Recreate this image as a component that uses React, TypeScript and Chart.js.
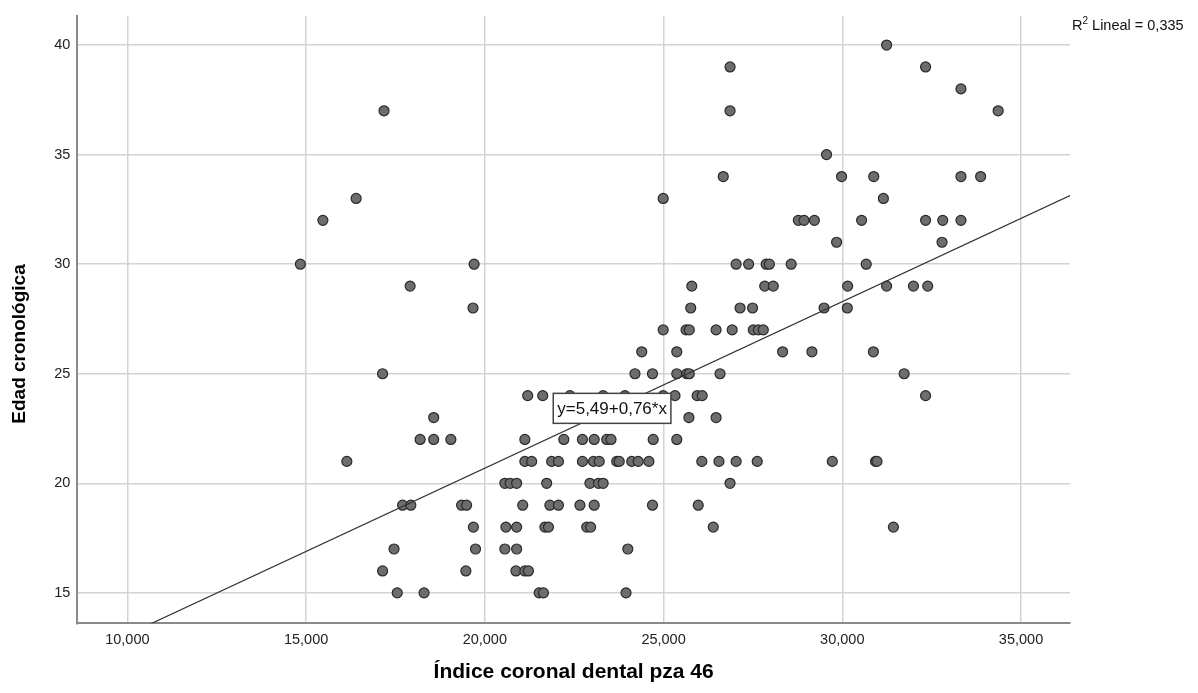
import React, { useEffect, useRef } from 'react';
import { Chart, registerables } from 'chart.js';

Chart.register(...registerables);

// ---- Data ----
// Edad cronológica (y) rows and the Índice coronal values (x) observed at each age
const edades: number[] = [40, 39, 38, 37, 35, 34, 33, 32, 31, 30, 29, 28, 27, 26, 25, 24, 23, 22, 21, 20, 19, 18, 17, 16, 15];
const indicesEdad40: number[] = [31.24];
const indicesEdad39: number[] = [26.86, 32.33];
const indicesEdad38: number[] = [33.32];
const indicesEdad37: number[] = [17.18, 26.86, 34.36];
const indicesEdad35: number[] = [29.56];
const indicesEdad34: number[] = [26.67, 29.98, 30.88, 33.32, 33.87];
const indicesEdad33: number[] = [16.4, 24.99, 31.15];
const indicesEdad32: number[] = [15.47, 28.77, 28.93, 29.22, 30.54, 32.33, 32.81, 33.32];
const indicesEdad31: number[] = [29.84, 32.79];
const indicesEdad30: number[] = [14.84, 19.7, 27.03, 27.38, 27.87, 27.96, 28.57, 30.67];
const indicesEdad29: number[] = [17.91, 25.79, 27.83, 28.07, 30.15, 31.24, 31.99, 32.39];
const indicesEdad28: number[] = [19.67, 25.76, 27.14, 27.49, 29.49, 30.14];
const indicesEdad27: number[] = [24.99, 25.63, 25.72, 26.47, 26.92, 27.51, 27.65, 27.79];
const indicesEdad26: number[] = [24.39, 25.37, 28.33, 29.15, 30.87];
const indicesEdad25: number[] = [17.14, 24.2, 24.69, 25.37, 25.65, 25.72, 26.58, 31.73];
const indicesEdad24: number[] = [21.2, 21.62, 22.38, 23.31, 23.92, 24.99, 25.32, 25.94, 26.08, 32.33];
const indicesEdad23: number[] = [18.57, 25.71, 26.47];
const indicesEdad22: number[] = [18.19, 18.57, 19.05, 21.12, 22.21, 22.73, 23.06, 23.41, 23.53, 24.71, 25.37];
const indicesEdad21: number[] = [16.14, 21.12, 21.31, 21.87, 22.06, 22.73, 23.04, 23.2, 23.69, 23.76, 24.11, 24.29, 24.59, 26.07, 26.55, 27.03, 27.62, 29.72, 30.93, 30.97];
const indicesEdad20: number[] = [20.56, 20.71, 20.89, 21.73, 22.94, 23.18, 23.31, 26.86];
const indicesEdad19: number[] = [17.7, 17.93, 19.35, 19.49, 21.06, 21.82, 22.06, 22.66, 23.06, 24.69, 25.97];
const indicesEdad18: number[] = [19.68, 20.59, 20.89, 21.68, 21.78, 22.85, 22.96, 26.39, 31.43];
const indicesEdad17: number[] = [17.46, 19.74, 20.56, 20.89, 24.0];
const indicesEdad16: number[] = [17.14, 19.47, 20.87, 21.12, 21.22];
const indicesEdad15: number[] = [17.55, 18.3, 21.52, 21.64, 23.95];

const indicesPorEdad: number[][] = [
  indicesEdad40, indicesEdad39, indicesEdad38, indicesEdad37, indicesEdad35, indicesEdad34,
  indicesEdad33, indicesEdad32, indicesEdad31, indicesEdad30, indicesEdad29, indicesEdad28,
  indicesEdad27, indicesEdad26, indicesEdad25, indicesEdad24, indicesEdad23, indicesEdad22,
  indicesEdad21, indicesEdad20, indicesEdad19, indicesEdad18, indicesEdad17, indicesEdad16,
  indicesEdad15,
];

// Linear fit
const intercepto = 5.49;
const pendiente = 0.76;
const r2Lineal = 0.335;

// Axis ranges and ticks
const xMin = 8.6;
const xMax = 36.37;
const yMin = 13.61;
const yMax = 41.34;
const xTickStep = 5;
const yTickStep = 5;

// Texts
const tituloX = 'Índice coronal dental pza 46';
const tituloY = 'Edad cronológica';
const fmt = (v: number, d: number) => v.toFixed(d).replace('.', ',');
const etiquetaAjuste = `y=${fmt(intercepto, 2)}+${fmt(pendiente, 2)}*x`;
const etiquetaR2 = ` Lineal = ${fmt(r2Lineal, 3)}`;
// Where the fit label sits (data units)
const etiquetaAncla = { x: 23.56, y: 23.42 };

const FONT = "'Liberation Sans', Arial, Helvetica, sans-serif";

const puntos = edades.flatMap((edad, i) => indicesPorEdad[i].map((x) => ({ x, y: edad })));
const lineaAjuste = [
  { x: xMin, y: intercepto + pendiente * xMin },
  { x: xMax, y: intercepto + pendiente * xMax },
];

const spssPlugin = {
  id: 'spssExtras',
  afterDatasetsDraw(chart: any) {
    const { ctx, scales } = chart;
    const cx = scales.x.getPixelForValue(etiquetaAncla.x);
    const cy = scales.y.getPixelForValue(etiquetaAncla.y);
    ctx.save();
    ctx.font = `17px ${FONT}`;
    const w = ctx.measureText(etiquetaAjuste).width + 8;
    const h = 30;
    ctx.fillStyle = '#ffffff';
    ctx.fillRect(cx - w / 2, cy - h / 2, w, h);
    ctx.strokeStyle = '#444444';
    ctx.lineWidth = 1.5;
    ctx.strokeRect(cx - w / 2, cy - h / 2, w, h);
    ctx.fillStyle = '#111111';
    ctx.textAlign = 'center';
    ctx.textBaseline = 'middle';
    ctx.fillText(etiquetaAjuste, cx, cy + 1);
    ctx.restore();
  },
  afterDraw(chart: any) {
    const { ctx, chartArea } = chart;
    ctx.save();
    // R² label
    let x = chartArea.right + 2;
    const base = 29.5;
    ctx.fillStyle = '#111111';
    ctx.textAlign = 'left';
    ctx.textBaseline = 'alphabetic';
    ctx.font = `14.5px ${FONT}`;
    ctx.fillText('R', x, base);
    x += ctx.measureText('R').width;
    ctx.font = `10px ${FONT}`;
    ctx.fillText('2', x, base - 6);
    x += ctx.measureText('2').width;
    ctx.font = `14.5px ${FONT}`;
    ctx.fillText(etiquetaR2, x, base);
    // Y axis title
    ctx.translate(20, 344);
    ctx.rotate(-Math.PI / 2);
    ctx.font = `bold 19px ${FONT}`;
    ctx.textAlign = 'center';
    ctx.textBaseline = 'middle';
    ctx.fillStyle = '#000000';
    ctx.fillText(tituloY, 0, 0);
    ctx.restore();
  },
};

export default function App() {
  const canvasRef = useRef<HTMLCanvasElement | null>(null);

  useEffect(() => {
    if (!canvasRef.current) return;
    const grid = { color: '#d3d3d3', lineWidth: 1.5, drawTicks: false };
    const border = { display: true, color: '#8a8a8a', width: 2 };
    const chart = new Chart(canvasRef.current, {
      type: 'scatter',
      data: {
        datasets: [
          {
            type: 'line',
            label: 'Ajuste lineal',
            data: lineaAjuste,
            borderColor: '#333333',
            borderWidth: 1.2,
            pointRadius: 0,
            fill: false,
            tension: 0,
          } as any,
          {
            type: 'scatter',
            label: 'Edad cronológica',
            data: puntos,
            pointRadius: 5,
            pointBorderWidth: 1.2,
            pointBackgroundColor: '#6d6d6d',
            pointBorderColor: '#2a2a2a',
          },
        ],
      },
      options: {
        animation: false,
        responsive: false,
        devicePixelRatio: 1,
        events: [],
        layout: { padding: { top: 12.7, right: 128, left: 0, bottom: 0 } },
        plugins: { legend: { display: false }, tooltip: { enabled: false } },
        scales: {
          x: {
            type: 'linear',
            position: 'bottom',
            min: xMin,
            max: xMax,
            grid,
            border,
            ticks: {
              stepSize: xTickStep,
              includeBounds: false,
              maxRotation: 0,
              padding: 8,
              color: '#222222',
              font: { family: FONT, size: 14.5 },
              callback: (v: any) => fmt(Number(v), 3),
            },
            title: {
              display: true,
              text: tituloX,
              color: '#000000',
              font: { family: FONT, size: 21, weight: 'bold' },
              padding: 8,
            },
            afterFit: (s: any) => {
              s.height = 69.7;
            },
          },
          y: {
            type: 'linear',
            min: yMin,
            max: yMax,
            grid,
            border,
            ticks: {
              stepSize: yTickStep,
              includeBounds: false,
              padding: 7,
              color: '#222222',
              font: { family: FONT, size: 14.5 },
              callback: (v: any) => String(v),
            },
            title: { display: false, text: tituloY },
            afterFit: (s: any) => {
              s.width = 77.3;
            },
          },
        },
      } as any,
      plugins: [spssPlugin],
    });
    return () => chart.destroy();
  }, []);

  return (
    <div style={{ position: 'absolute', left: 0, top: 0, width: 1198, height: 693, background: '#ffffff' }}>
      <canvas ref={canvasRef} width={1198} height={693} style={{ display: 'block', width: 1198, height: 693 }} />
    </div>
  );
}
